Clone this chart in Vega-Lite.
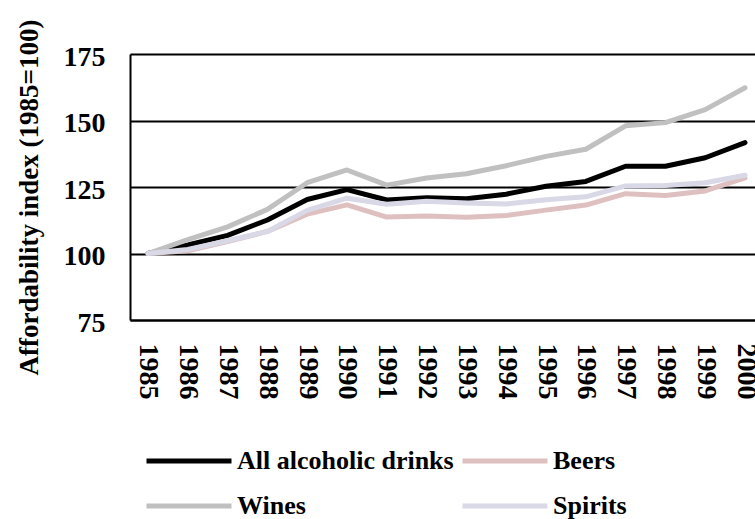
{
  "$schema": "https://vega.github.io/schema/vega-lite/v6.json",
  "autosize": "none",
  "width": 625,
  "height": 266,
  "padding": {"left": 130, "top": 54, "right": 0, "bottom": 199},
  "background": "white",
  "config": {
    "font": "Liberation Serif",
    "view": {"stroke": null},
    "axis": {"labelFont": "Liberation Serif", "titleFont": "Liberation Serif", "labelFontWeight": "bold", "titleFontWeight": "bold", "labelColor": "black", "titleColor": "black"},
    "legend": {"labelFont": "Liberation Serif", "labelFontWeight": "bold", "labelColor": "black"}
  },
  "datasets": {
    "afford": [
      {"year": 1985, "series": "All alcoholic drinks", "index": 100},
      {"year": 1986, "series": "All alcoholic drinks", "index": 103.2},
      {"year": 1987, "series": "All alcoholic drinks", "index": 106.8},
      {"year": 1988, "series": "All alcoholic drinks", "index": 112.6},
      {"year": 1989, "series": "All alcoholic drinks", "index": 120.3},
      {"year": 1990, "series": "All alcoholic drinks", "index": 124.0},
      {"year": 1991, "series": "All alcoholic drinks", "index": 120.1},
      {"year": 1992, "series": "All alcoholic drinks", "index": 121.0},
      {"year": 1993, "series": "All alcoholic drinks", "index": 120.6},
      {"year": 1994, "series": "All alcoholic drinks", "index": 122.3},
      {"year": 1995, "series": "All alcoholic drinks", "index": 125.3},
      {"year": 1996, "series": "All alcoholic drinks", "index": 127.1},
      {"year": 1997, "series": "All alcoholic drinks", "index": 132.8},
      {"year": 1998, "series": "All alcoholic drinks", "index": 132.8},
      {"year": 1999, "series": "All alcoholic drinks", "index": 136.0},
      {"year": 2000, "series": "All alcoholic drinks", "index": 141.7},
      {"year": 1985, "series": "Beers", "index": 100},
      {"year": 1986, "series": "Beers", "index": 101.0},
      {"year": 1987, "series": "Beers", "index": 104.5},
      {"year": 1988, "series": "Beers", "index": 108.3},
      {"year": 1989, "series": "Beers", "index": 114.8},
      {"year": 1990, "series": "Beers", "index": 118.3},
      {"year": 1991, "series": "Beers", "index": 113.7},
      {"year": 1992, "series": "Beers", "index": 114.1},
      {"year": 1993, "series": "Beers", "index": 113.6},
      {"year": 1994, "series": "Beers", "index": 114.3},
      {"year": 1995, "series": "Beers", "index": 116.3},
      {"year": 1996, "series": "Beers", "index": 118.2},
      {"year": 1997, "series": "Beers", "index": 122.5},
      {"year": 1998, "series": "Beers", "index": 121.8},
      {"year": 1999, "series": "Beers", "index": 123.5},
      {"year": 2000, "series": "Beers", "index": 128.4},
      {"year": 1985, "series": "Wines", "index": 100},
      {"year": 1986, "series": "Wines", "index": 105.2},
      {"year": 1987, "series": "Wines", "index": 110.0},
      {"year": 1988, "series": "Wines", "index": 116.6},
      {"year": 1989, "series": "Wines", "index": 126.6},
      {"year": 1990, "series": "Wines", "index": 131.4},
      {"year": 1991, "series": "Wines", "index": 125.7},
      {"year": 1992, "series": "Wines", "index": 128.4},
      {"year": 1993, "series": "Wines", "index": 130.0},
      {"year": 1994, "series": "Wines", "index": 133.0},
      {"year": 1995, "series": "Wines", "index": 136.5},
      {"year": 1996, "series": "Wines", "index": 139.2},
      {"year": 1997, "series": "Wines", "index": 148.0},
      {"year": 1998, "series": "Wines", "index": 149.2},
      {"year": 1999, "series": "Wines", "index": 154.1},
      {"year": 2000, "series": "Wines", "index": 162.3},
      {"year": 1985, "series": "Spirits", "index": 100},
      {"year": 1986, "series": "Spirits", "index": 101.5},
      {"year": 1987, "series": "Spirits", "index": 104.8},
      {"year": 1988, "series": "Spirits", "index": 108.3},
      {"year": 1989, "series": "Spirits", "index": 116.2},
      {"year": 1990, "series": "Spirits", "index": 120.8},
      {"year": 1991, "series": "Spirits", "index": 118.5},
      {"year": 1992, "series": "Spirits", "index": 119.6},
      {"year": 1993, "series": "Spirits", "index": 119.0},
      {"year": 1994, "series": "Spirits", "index": 118.6},
      {"year": 1995, "series": "Spirits", "index": 120.2},
      {"year": 1996, "series": "Spirits", "index": 121.3},
      {"year": 1997, "series": "Spirits", "index": 125.4},
      {"year": 1998, "series": "Spirits", "index": 125.6},
      {"year": 1999, "series": "Spirits", "index": 126.6},
      {"year": 2000, "series": "Spirits", "index": 129.4}
    ]
  },
  "data": {"name": "afford"},
  "mark": {"type": "line", "strokeWidth": 5, "strokeCap": "round", "strokeJoin": "round"},
  "encoding": {
    "x": {
      "field": "year",
      "type": "quantitative",
      "scale": {"domain": [1984.548, 2000.251], "nice": false, "zero": false},
      "axis": {
        "title": null,
        "values": [1985, 1986, 1987, 1988, 1989, 1990, 1991, 1992, 1993, 1994, 1995, 1996, 1997, 1998, 1999, 2000],
        "format": "d",
        "labelAngle": 90,
        "labelAlign": "left",
        "labelBaseline": "middle",
        "labelFontSize": 28,
        "labelPadding": 23,
        "labelOverlap": false,
        "labelFlush": false,
        "ticks": false,
        "grid": false,
        "domain": true,
        "domainColor": "black",
        "domainWidth": 2
      }
    },
    "y": {
      "field": "index",
      "type": "quantitative",
      "scale": {"domain": [75, 175], "nice": false, "zero": false},
      "axis": {
        "title": "Affordability index (1985=100)",
        "titleFontSize": 27,
        "titleX": -87,
        "titleY": 143,
        "values": [75, 100, 125, 150, 175],
        "labelFontSize": 28,
        "labelPadding": 25,
        "labelOffset": 3,
        "labelFlush": false,
        "ticks": false,
        "grid": true,
        "gridColor": "black",
        "gridWidth": 2,
        "gridOpacity": 1,
        "domain": true,
        "domainColor": "black",
        "domainWidth": 2
      }
    },
    "color": {
      "field": "series",
      "type": "nominal",
      "sort": null,
      "scale": {
        "domain": ["All alcoholic drinks", "Beers", "Wines", "Spirits"],
        "range": ["#000000", "#dfc0c0", "#c0c0c0", "#d8d8e6"]
      },
      "legend": {
        "title": null,
        "orient": "none",
        "legendX": 35,
        "legendY": 383,
        "direction": "horizontal",
        "columns": 2,
        "padding": 0,
        "symbolType": "M-2,0H2",
        "symbolSize": 1806,
        "symbolStrokeWidth": 5,
        "labelFontSize": 26,
        "labelOffset": 24,
        "labelLimit": 400,
        "columnPadding": -2,
        "rowPadding": 8
      }
    }
  }
}
